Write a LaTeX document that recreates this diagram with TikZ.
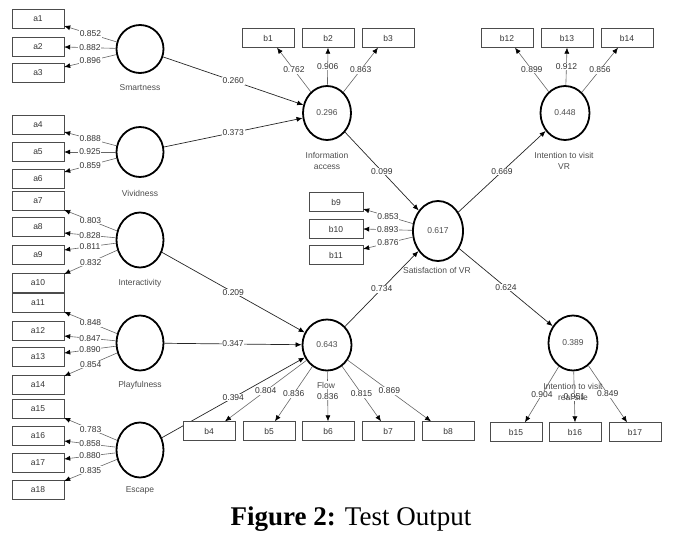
\documentclass[tikz,border=0pt]{standalone}
\usepackage{fontspec}
\setmainfont{Liberation Sans}
\newfontfamily\capfont{Liberation Serif}
\usetikzlibrary{arrows.meta, shapes.geometric}

\tikzset{
  ind/.style={draw=black!70, fill=white, minimum width=52pt, minimum height=19pt,
    inner sep=0pt, font=\fontsize{8.5}{9}\selectfont, text=black!80},
  lv/.style={draw=black, line width=1.8pt, ellipse, minimum width=47pt,
    minimum height=55pt, inner sep=0pt, font=\fontsize{8.5}{9}\selectfont, text=black!70},
  lab/.style={font=\fontsize{8.5}{11.5}\selectfont, text=black!70, align=center, inner sep=0.5pt},
  ld/.style={draw=black!60, line width=0.6pt, -{Latex[length=6pt,width=5pt,color=black]}},
  pth/.style={draw=black!85, line width=0.7pt, -{Latex[length=6pt,width=5pt,color=black]}},
  wt/.style={fill=white, inner sep=0.8pt, font=\fontsize{8.5}{9}\selectfont, text=black!80},
}

\begin{document}
\begin{tikzpicture}[x=1pt, y=-1pt]
  \useasboundingbox (0,0) rectangle (675,546);
  % constructs
  \node[lv, minimum height=48pt] (sma) at (140,49) {};
  \node[lv, minimum height=50pt] (viv) at (140,152) {};
  \node[lv] (int) at (140,240) {};
  \node[lv] (pla) at (140,343) {};
  \node[lv] (esc) at (140,450) {};
  \node[lv, minimum width=48pt, minimum height=54pt] (inf) at (327,113) {0.296};
  \node[lv, minimum width=50pt, minimum height=60pt] (sat) at (438,231) {0.617};
  \node[lv, minimum width=49pt, minimum height=51pt] (flo) at (327,345) {0.643};
  \node[lv, minimum width=49pt, minimum height=54pt] (ivr) at (565,113) {0.448};
  \node[lv, minimum width=49pt, minimum height=55pt] (irs) at (573,343) {0.389};

  % inner model
  \draw[pth] (sma) -- node[wt]{0.260} (inf);
  \draw[pth] (viv) -- node[wt]{0.373} (inf);
  \draw[pth] (int) -- node[wt]{0.209} (flo);
  \draw[pth] (pla) -- node[wt]{0.347} (flo);
  \draw[pth] (esc) -- node[wt]{0.394} (flo);
  \draw[pth] (inf) -- node[wt]{0.099} (sat);
  \draw[pth] (flo) -- node[wt]{0.734} (sat);
  \draw[pth] (sat) -- node[wt]{0.669} (ivr);
  \draw[pth] (sat) -- node[wt]{0.624} (irs);

  % indicators
  \node[ind] (a1) at (38,19) {a1};
  \node[ind] (a2) at (38,47) {a2};
  \node[ind] (a3) at (38,73) {a3};
  \node[ind] (a4) at (38,125) {a4};
  \node[ind] (a5) at (38,152) {a5};
  \node[ind] (a6) at (38,179) {a6};
  \node[ind] (a7) at (38,201) {a7};
  \node[ind] (a8) at (38,227) {a8};
  \node[ind] (a9) at (38,255) {a9};
  \node[ind] (a10) at (38,283) {a10};
  \node[ind] (a11) at (38,303) {a11};
  \node[ind] (a12) at (38,331) {a12};
  \node[ind] (a13) at (38,357) {a13};
  \node[ind] (a14) at (38,385) {a14};
  \node[ind] (a15) at (38,409) {a15};
  \node[ind] (a16) at (38,436) {a16};
  \node[ind] (a17) at (38,463) {a17};
  \node[ind] (a18) at (38,490) {a18};
  \node[ind] (b1) at (268,38) {b1};
  \node[ind] (b2) at (328,38) {b2};
  \node[ind] (b3) at (388,38) {b3};
  \node[ind] (b4) at (209,431) {b4};
  \node[ind] (b5) at (269,431) {b5};
  \node[ind] (b6) at (328,431) {b6};
  \node[ind] (b7) at (388,431) {b7};
  \node[ind] (b8) at (448,431) {b8};
  \node[ind, minimum width=54pt] (b9) at (336,202) {b9};
  \node[ind, minimum width=54pt] (b10) at (336,229) {b10};
  \node[ind, minimum width=54pt] (b11) at (336,255) {b11};
  \node[ind] (b12) at (507,38) {b12};
  \node[ind] (b13) at (567,38) {b13};
  \node[ind] (b14) at (627,38) {b14};
  \node[ind] (b15) at (516,432) {b15};
  \node[ind] (b16) at (575,432) {b16};
  \node[ind] (b17) at (635,432) {b17};

  % outer loadings
  \draw[ld] (sma) -- node[wt]{0.852} ([yshift=-7pt]a1.east);
  \draw[ld] (sma) -- node[wt]{0.882} (a2.east);
  \draw[ld] (sma) -- node[wt]{0.896} ([yshift=6pt]a3.east);
  \draw[ld] (viv) -- node[wt]{0.888} ([yshift=-7pt]a4.east);
  \draw[ld] (viv) -- node[wt]{0.925} (a5.east);
  \draw[ld] (viv) -- node[wt]{0.859} ([yshift=7pt]a6.east);
  \draw[ld] (int) -- node[wt]{0.803} ([yshift=-9pt]a7.east);
  \draw[ld] (int) -- node[wt]{0.828} ([yshift=-6pt]a8.east);
  \draw[ld] (int) -- node[wt]{0.811} ([yshift=5pt]a9.east);
  \draw[ld] (int) -- node[wt]{0.832} ([yshift=9pt]a10.east);
  \draw[ld] (pla) -- node[wt]{0.848} ([yshift=-9pt]a11.east);
  \draw[ld] (pla) -- node[wt]{0.847} ([yshift=-5pt]a12.east);
  \draw[ld] (pla) -- node[wt]{0.890} ([yshift=4pt]a13.east);
  \draw[ld] (pla) -- node[wt]{0.854} ([yshift=9pt]a14.east);
  \draw[ld] (esc) -- node[wt]{0.783} ([yshift=-9pt]a15.east);
  \draw[ld] (esc) -- node[wt]{0.858} ([yshift=-5pt]a16.east);
  \draw[ld] (esc) -- node[wt]{0.880} ([yshift=4pt]a17.east);
  \draw[ld] (esc) -- node[wt]{0.835} ([yshift=9pt]a18.east);

  \draw[ld] (inf) -- node[wt]{0.762} ([xshift=9pt]b1.south);
  \draw[ld] (inf) -- node[wt]{0.906} (b2.south);
  \draw[ld] (inf) -- node[wt]{0.863} ([xshift=-10pt]b3.south);
  \draw[ld] (flo) -- node[wt]{0.804} ([xshift=16pt]b4.north);
  \draw[ld] (flo) -- node[wt]{0.836} ([xshift=6pt]b5.north);
  \draw[ld] (flo) -- node[wt]{0.836} (b6.north);
  \draw[ld] (flo) -- node[wt]{0.815} ([xshift=-7pt]b7.north);
  \draw[ld] (flo) -- node[wt]{0.869} ([xshift=-17pt]b8.north);
  \draw[ld] (sat) -- node[wt]{0.853} ([yshift=-7pt]b9.east);
  \draw[ld] (sat) -- node[wt]{0.893} (b10.east);
  \draw[ld] (sat) -- node[wt]{0.876} ([yshift=6pt]b11.east);
  \draw[ld] (ivr) -- node[wt]{0.899} ([xshift=8pt]b12.south);
  \draw[ld] (ivr) -- node[wt]{0.912} (b13.south);
  \draw[ld] (ivr) -- node[wt]{0.856} ([xshift=-9pt]b14.south);
  \draw[ld] (irs) -- node[wt]{0.904} ([xshift=9pt]b15.north);
  \draw[ld] (irs) -- node[wt]{0.951} (b16.north);
  \draw[ld] (irs) -- node[wt]{0.849} ([xshift=-8pt]b17.north);

  % construct names
  \node[lab] (smat) at (140,88) {Smartness};
  \node[lab] (vivt) at (140,193) {Vividness};
  \node[lab] (intt) at (140,283) {Interactivity};
  \node[lab] (plat) at (140,385) {Playfulness};
  \node[lab] (esct) at (140,490) {Escape};
  \node[lab] (inft) at (327,161) {Information\\access};
  \node[lab] (satt) at (437,270) {Satisfaction of VR};
  \node[lab, fill=white] (flot) at (326,385) {Flow};
  \node[lab] (ivrt) at (564,161) {Intention to visit\\VR};
  \node[lab] (irst) at (573,392) {Intention to visit\\real site};

  \node[anchor=base, font=\capfont\fontsize{27}{30}\selectfont] (cap) at (351,525)
    {\textbf{Figure 2:} Test Output};
\end{tikzpicture}
\end{document}
